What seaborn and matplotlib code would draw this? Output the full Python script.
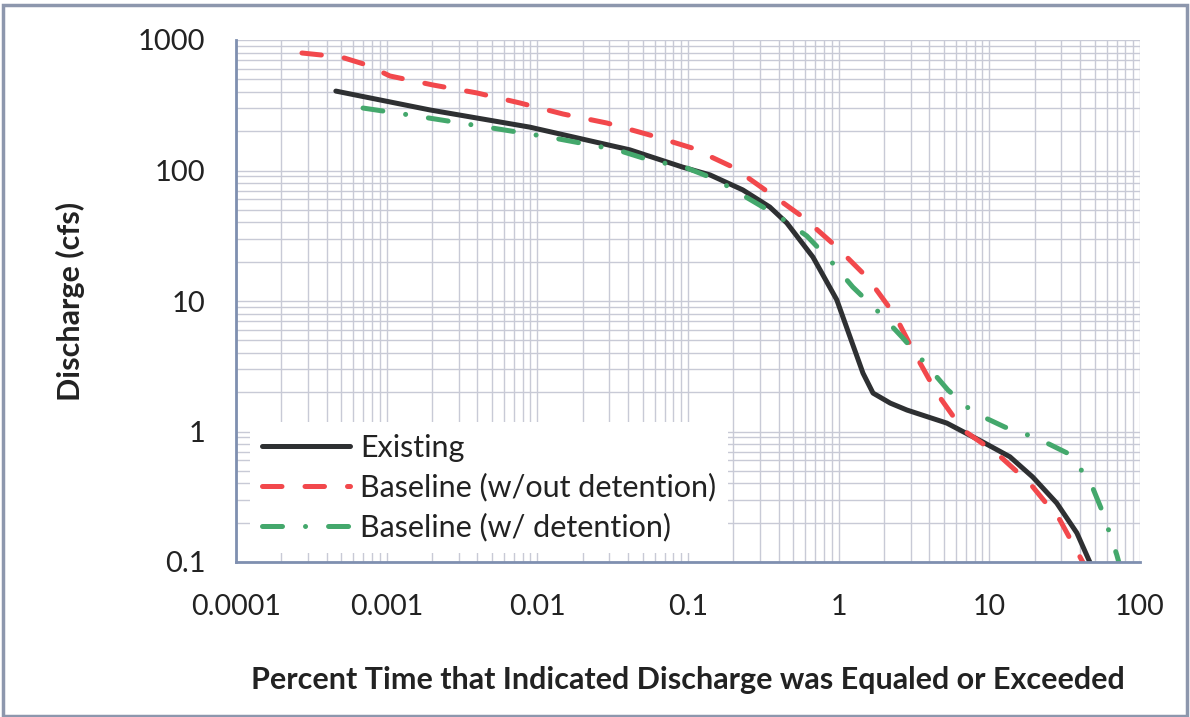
import matplotlib
matplotlib.use("Agg")
import matplotlib.pyplot as plt
import seaborn as sns
import pandas as pd
from matplotlib.patches import Rectangle
from matplotlib.ticker import FixedLocator, FixedFormatter, LogLocator, NullFormatter

# ---------------- data ----------------
series_names = ["Existing", "Baseline (w/out detention)", "Baseline (w/ detention)"]

existing_x = [4.6e-4, 1.94e-3, 8.9e-3, 0.0411, 0.0925, 0.14, 0.231, 0.349, 0.453,
              0.675, 0.972, 1.19, 1.45, 1.69, 2.2, 2.84, 5.22, 9.06, 13.7, 19.4, 28.0, 38.1, 46.4]
existing_y = [406, 291, 215, 144, 106, 92.5, 71, 52.5, 39.6,
              21.7, 10.2, 5.3, 2.8, 1.97, 1.65, 1.46, 1.16, 0.83, 0.64, 0.448, 0.283, 0.167, 0.1]

baseline_x = [2.74e-4, 5.0e-4, 7.5e-4, 1.05e-3, 2.03e-3, 3.97e-3, 7.68e-3, 0.0148, 0.029, 0.0558,
              0.106, 0.199, 0.349, 0.578, 0.972, 1.56, 2.36, 3.11, 4.48, 6.67, 11.2,
              18.6, 29.4, 41.7]
baseline_y = [795, 740, 640, 530, 452, 393, 329, 271, 231, 187,
              149, 106, 67, 44, 25.9, 15.0, 7.8, 4.2, 1.97, 1.03, 0.68,
              0.40, 0.21, 0.1]

detention_x = [6.97e-4, 1.43e-3, 4.16e-3, 0.0117, 0.0337, 0.0558, 0.0953, 0.156, 0.407,
               0.615, 0.875, 1.24, 1.79, 2.63, 3.73, 5.31, 7.77, 12.7, 20.7, 33.2,
               46.4, 56.6, 70.2, 72.3]
detention_y = [301, 266, 219, 181, 144, 120, 106, 84.5, 44,
               31.5, 20.6, 12.8, 8.5, 5.3, 3.35, 2.08, 1.41, 1.08, 0.89, 0.68,
               0.42, 0.24, 0.113, 0.1]

x_ticks = [0.0001, 0.001, 0.01, 0.1, 1, 10, 100]
x_tick_labels = ["0.0001", "0.001", "0.01", "0.1", "1", "10", "100"]
y_ticks = [0.1, 1, 10, 100, 1000]
y_tick_labels = ["0.1", "1", "10", "100", "1000"]

x_label = "Percent Time that Indicated Discharge was Equaled or Exceeded"
y_label = "Discharge (cfs)"

# ---------------- build frame ----------------
frames = []
for name, xs, ys in [(series_names[0], existing_x, existing_y),
                     (series_names[1], baseline_x, baseline_y),
                     (series_names[2], detention_x, detention_y)]:
    frames.append(pd.DataFrame({"x": xs, "y": ys, "series": name}))
df = pd.concat(frames, ignore_index=True)

palette = {series_names[0]: "#2e3032",
           series_names[1]: "#f2484c",
           series_names[2]: "#44a86c"}
dashes = {series_names[0]: "",
          series_names[1]: (3.9, 4.6),
          series_names[2]: (4.0, 4.6, 0.01, 4.6)}

# ---------------- figure ----------------
sns.set_theme(style="white")
plt.rcParams["font.family"] = ["Lato", "DejaVu Sans"]

fig = plt.figure(figsize=(11.9, 7.17), dpi=100)
ax = fig.add_axes([236 / 1190, 1 - 562 / 717, (1140 - 236) / 1190, (562 - 40) / 717])

sns.lineplot(data=df, x="x", y="y", hue="series", style="series",
             palette=palette, dashes=dashes, linewidth=3.6,
             estimator=None, sort=False, legend=False, ax=ax)

ax.set_xscale("log")
ax.set_yscale("log")
ax.set_xlim(1e-4, 100)
ax.set_ylim(0.1, 1000)

for ln in ax.get_lines():
    ln.set_dash_capstyle("round")
    ln.set_solid_capstyle("round")
    ln.set_solid_joinstyle("round")
    ln.set_dash_joinstyle("round")

ax.xaxis.set_major_locator(FixedLocator(x_ticks))
ax.xaxis.set_major_formatter(FixedFormatter(x_tick_labels))
ax.yaxis.set_major_locator(FixedLocator(y_ticks))
ax.yaxis.set_major_formatter(FixedFormatter(y_tick_labels))
ax.xaxis.set_minor_locator(LogLocator(base=10, subs=range(2, 10), numticks=50))
ax.yaxis.set_minor_locator(LogLocator(base=10, subs=range(2, 10), numticks=50))
ax.xaxis.set_minor_formatter(NullFormatter())
ax.yaxis.set_minor_formatter(NullFormatter())

ax.grid(True, which="both", color="#c8cad6", linewidth=1.0)
ax.set_axisbelow(True)
ax.tick_params(which="both", length=0)
ax.tick_params(axis="x", pad=23, labelsize=20.5, colors="#222222")
ax.tick_params(axis="y", pad=22, labelsize=21, colors="#222222")

for side in ["top", "right"]:
    ax.spines[side].set_visible(False)
for side in ["left", "bottom"]:
    ax.spines[side].set_color("#7f8fb0")
    ax.spines[side].set_linewidth(2)

ax.set_xlabel(x_label, fontsize=22, fontweight="bold", color="#222222")
ax.set_ylabel(y_label, fontsize=22, fontweight="bold", color="#222222")
ax.xaxis.set_label_coords(0.5, (562 - 680) / 522)
ax.xaxis.label.set_va("center")
ax.yaxis.set_label_coords((70 - 236) / 904, 0.5)
ax.yaxis.label.set_va("center")

leg = ax.legend(handles=ax.get_lines()[:3], labels=series_names,
                loc="lower left", bbox_to_anchor=(14 / 904, 9 / 522),
                borderaxespad=0, fontsize=22, handlelength=2.9,
                handletextpad=0.33, labelspacing=0.36, borderpad=0.38,
                frameon=True, fancybox=False, framealpha=1.0)
leg.get_frame().set_edgecolor("none")
leg.get_frame().set_facecolor("white")
for t in leg.get_texts():
    t.set_color("#222222")

fig.patches.append(Rectangle((3 / 1190, 1 / 717), 1184 / 1190, 711 / 717,
                             transform=fig.transFigure, fill=False,
                             edgecolor="#8d97ad", linewidth=2.5))

fig.savefig("out.png", dpi=100, facecolor="white")
